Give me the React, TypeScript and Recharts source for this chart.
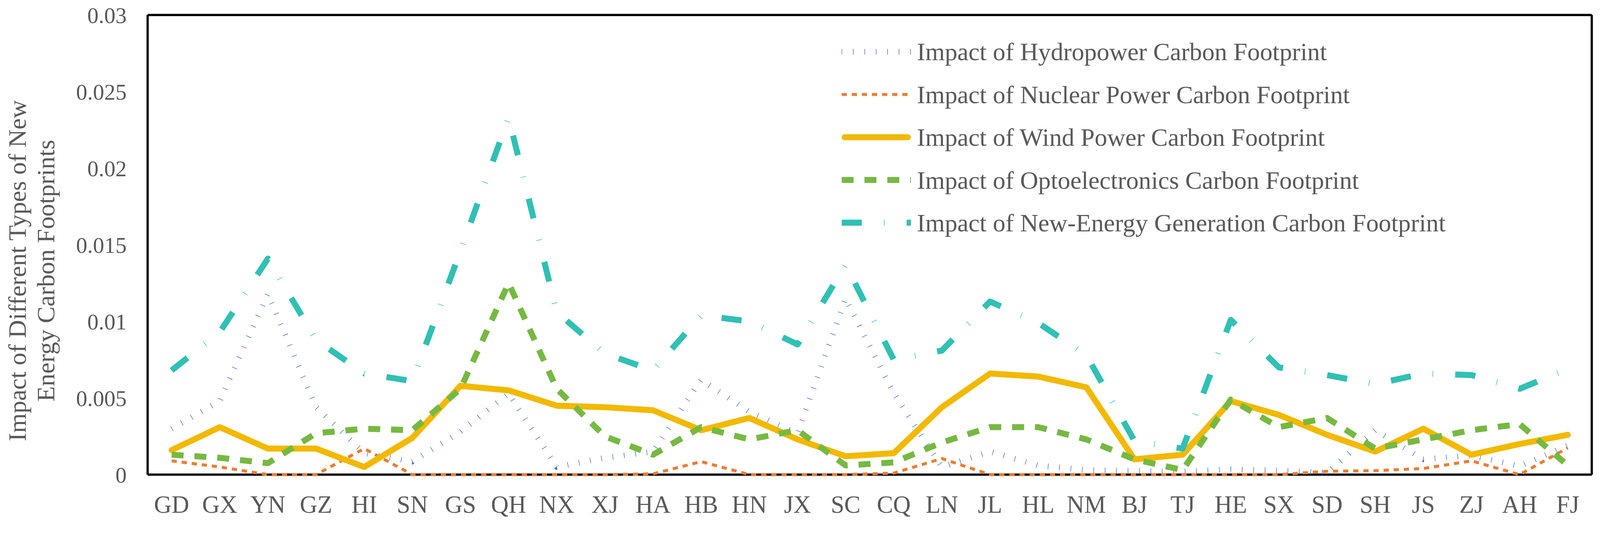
import { CartesianGrid, Legend, Line, LineChart, XAxis, YAxis } from 'recharts';

const categories = [
  'GD', 'GX', 'YN', 'GZ', 'HI', 'SN', 'GS', 'QH', 'NX', 'XJ',
  'HA', 'HB', 'HN', 'JX', 'SC', 'CQ', 'LN', 'JL', 'HL', 'NM',
  'BJ', 'TJ', 'HE', 'SX', 'SD', 'SH', 'JS', 'ZJ', 'AH', 'FJ',
];

const hydro = [
  0.003, 0.0048, 0.0118, 0.0044, 0.0014, 0.00085, 0.0028, 0.0053, 0.0005, 0.0011,
  0.0015, 0.0062, 0.0041, 0.0027, 0.0115, 0.0053, 0.0005, 0.0015, 0.0006, 0.0003,
  0.00025, 0.0002, 0.00035, 0.00027, 0.00012, 0.0029, 0.001, 0.00125, 0.00055, 0.0019,
];

const nuclear = [
  0.0009, 0.0005, 0, 0, 0.0017, 0, 0, 0, 0, 0,
  0.00005, 0.00085, 0, 0, 0, 0.0001, 0.00105, 0, 0, 0,
  0, 0, 0, 0, 0.00022, 0.00026, 0.0004, 0.0009, 0, 0.00175,
];

const wind = [
  0.0016, 0.0031, 0.0017, 0.0017, 0.0005, 0.0024, 0.0058, 0.0055, 0.0045, 0.0044,
  0.0042, 0.0029, 0.0037, 0.0023, 0.0012, 0.0014, 0.0044, 0.0066, 0.0064, 0.0057,
  0.001, 0.0013, 0.0048, 0.0039, 0.0026, 0.0015, 0.003, 0.0013, 0.002, 0.0026,
];

const opto = [
  0.0013, 0.0011, 0.00075, 0.0027, 0.003, 0.0029, 0.0056, 0.0125, 0.0056, 0.0025,
  0.0013, 0.0031, 0.0023, 0.0029, 0.0006, 0.0008, 0.0021, 0.0031, 0.0031, 0.0023,
  0.001, 0.0003, 0.0049, 0.0031, 0.0037, 0.0017, 0.0023, 0.0029, 0.0033, 0.0006,
];

const newEnergy = [
  0.0068, 0.0093, 0.0141, 0.0088, 0.0066, 0.0061, 0.0146, 0.0233, 0.0106, 0.0079,
  0.0068, 0.0104, 0.01, 0.0085, 0.0137, 0.0075, 0.0081, 0.0113, 0.0099, 0.0078,
  0.0022, 0.0017, 0.0101, 0.007, 0.0065, 0.0059, 0.0066, 0.0065, 0.0056, 0.0069,
];

const yTicks = [0, 0.005, 0.01, 0.015, 0.02, 0.025, 0.03];

const W = 4270;
const H = 1397;
const FONT = '"Liberation Serif", "Times New Roman", serif';
const TEXT = '#595959';

type SeriesDef = {
  key: string;
  name: string;
  color: string;
  width: number;
  dash?: string;
  cap: 'butt' | 'round';
};

const series: SeriesDef[] = [
  { key: 'hydro', name: 'Impact of Hydropower Carbon Footprint', color: '#4472C4', width: 15, dash: '1.5 29', cap: 'butt' },
  { key: 'nuclear', name: 'Impact of Nuclear Power Carbon Footprint', color: '#ED7D31', width: 8, dash: '14 13', cap: 'butt' },
  { key: 'wind', name: 'Impact of Wind Power Carbon Footprint', color: '#F2B900', width: 16, cap: 'round' },
  { key: 'opto', name: 'Impact of Optoelectronics Carbon Footprint', color: '#76B942', width: 16, dash: '32 29', cap: 'butt' },
  { key: 'newEnergy', name: 'Impact of New-Energy Generation Carbon Footprint', color: '#31C0B4', width: 16, dash: '54 59 1.5 59', cap: 'butt' },
];

const data = categories.map((region, i) => ({
  region,
  hydro: hydro[i],
  nuclear: nuclear[i],
  wind: wind[i],
  opto: opto[i],
  newEnergy: newEnergy[i],
}));

// plot frame drawn as grid lines on the plot edges, so the series sit on top of it
const frameRows = ({ offset }: any) => [offset.top, offset.top + offset.height];
const frameCols = ({ offset }: any) => [offset.left, offset.left + offset.width];

function LegendBox() {
  return (
    <div style={{ fontFamily: FONT }}>
      {series.map((s) => (
        <div key={s.key} style={{ display: 'flex', alignItems: 'center', height: 114 }}>
          <svg width={185} height={30} style={{ flexShrink: 0 }}>
            <line
              x1={s.cap === 'round' ? 8 : 0}
              x2={s.cap === 'round' ? 177 : 185}
              y1={15}
              y2={15}
              stroke={s.color}
              strokeWidth={s.width}
              strokeDasharray={s.dash}
              strokeLinecap={s.cap}
            />
          </svg>
          <span style={{ marginLeft: 16, fontSize: 67, color: TEXT, whiteSpace: 'nowrap' }}>{s.name}</span>
        </div>
      ))}
    </div>
  );
}

export default function App() {
  // fit the fixed-size figure into the viewport the page actually gets (one uniform scale)
  const s = typeof window !== 'undefined' && window.innerWidth ? Math.min(1, window.innerWidth / W) : 1;

  return (
    <div style={{ width: W * s, height: H * s, overflow: 'hidden' }}>
      <style>{'html,body{margin:0;padding:0;overflow:hidden}'}</style>
      <div
        style={{
          position: 'relative',
          width: W,
          height: H,
          background: '#fff',
          transform: `scale(${s})`,
          transformOrigin: '0 0',
        }}
      >
        <LineChart
          width={W}
          height={H}
          data={data}
          margin={{ top: 40, right: 22, bottom: 0, left: 0 }}
        >
          <CartesianGrid
            stroke="#000"
            strokeWidth={6}
            horizontalCoordinatesGenerator={frameRows}
            verticalCoordinatesGenerator={frameCols}
          />
          <XAxis
            dataKey="region"
            interval={0}
            padding={{ left: 64, right: 64 }}
            height={131}
            axisLine={false}
            tickLine={false}
            tickSize={0}
            tickMargin={56}
            tick={{ fill: TEXT, fontSize: 65, fontFamily: FONT }}
          />
          <YAxis
            domain={[0, 0.03]}
            ticks={yTicks}
            width={394}
            axisLine={false}
            tickLine={false}
            tickSize={0}
            tickMargin={56}
            tickFormatter={(v: number) => String(v)}
            tick={{ fill: TEXT, fontSize: 60, fontFamily: FONT }}
          />
          <Legend
            layout="horizontal"
            verticalAlign="middle"
            align="center"
            content={() => <LegendBox />}
            wrapperStyle={{ position: 'absolute', left: 2246, top: 81, width: 1800, height: 570 }}
          />
          {series.map((sr) => (
            <Line
              key={sr.key}
              type="linear"
              dataKey={sr.key}
              name={sr.name}
              stroke={sr.color}
              strokeWidth={sr.width}
              strokeDasharray={sr.dash}
              strokeLinecap={sr.cap}
              strokeLinejoin="round"
              dot={false}
              activeDot={false}
              isAnimationActive={false}
            />
          ))}
        </LineChart>
        <svg
          width={200}
          height={H}
          style={{ position: 'absolute', left: 0, top: 0, pointerEvents: 'none' }}
        >
          <text
            x={69}
            y={722}
            transform="rotate(-90 69 722)"
            textAnchor="middle"
            fontFamily={FONT}
            fontSize={67}
            fill={TEXT}
          >
            Impact of Different Types of New
          </text>
          <text
            x={145}
            y={722}
            transform="rotate(-90 145 722)"
            textAnchor="middle"
            fontFamily={FONT}
            fontSize={67}
            fill={TEXT}
          >
            Energy Carbon Footprints
          </text>
        </svg>
      </div>
    </div>
  );
}
